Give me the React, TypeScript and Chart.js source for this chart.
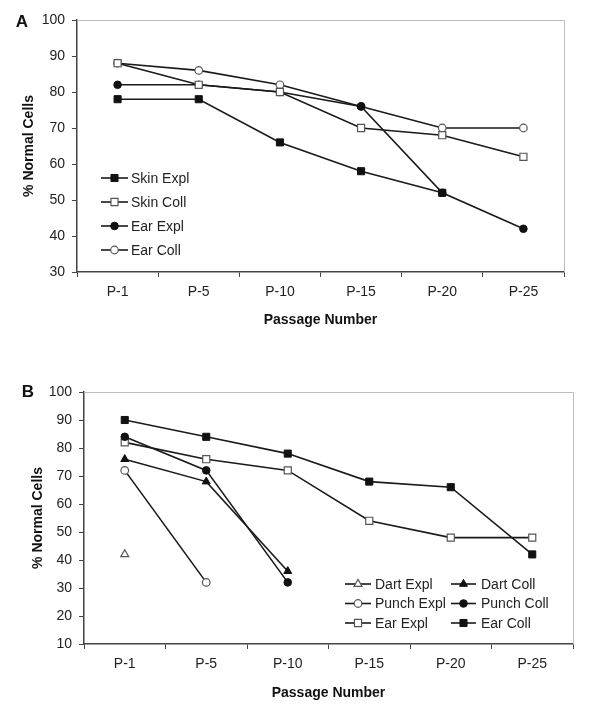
import React, { useEffect, useRef } from 'react';
import { Chart, registerables } from 'chart.js';

Chart.register(...registerables);

// ---------- Data ----------
const passages = ['P-1', 'P-5', 'P-10', 'P-15', 'P-20', 'P-25'];

// Panel A
const skinExplA = [78, 78, 66, 58, 52, null];
const skinCollA = [88, 82, 80, 70, 68, 62];
const earExplA = [82, 82, 80, 76, 52, 42];
const earCollA = [88, 86, 82, 76, 70, 70];

// Panel B
const dartExplB = [42, null, null, null, null, null];
const dartCollB = [76, 68, 36, null, null, null];
const punchExplB = [72, 32, null, null, null, null];
const punchCollB = [84, 72, 32, null, null, null];
const earExplB = [82, 76, 72, 54, 48, 48];
const earCollB = [90, 84, 78, 68, 66, 42];

const yTitle = '% Normal Cells';
const xTitle = 'Passage Number';

// ---------- Styles ----------
const FONT = '"Liberation Sans", Arial, sans-serif';
const TEXT = '#222';
const AXIS = '#444';
const LINE = '#1a1a1a';
const FRAME = '#bdbdbd';

type MarkerStyle = 'rect' | 'circle' | 'triangle';
type Series = { label: string; data: (number | null)[]; style: MarkerStyle; filled: boolean };

const seriesA: Series[] = [
  { label: 'Skin Expl', data: skinExplA, style: 'rect', filled: true },
  { label: 'Skin Coll', data: skinCollA, style: 'rect', filled: false },
  { label: 'Ear Expl', data: earExplA, style: 'circle', filled: true },
  { label: 'Ear Coll', data: earCollA, style: 'circle', filled: false },
];

const seriesB: Series[] = [
  { label: 'Dart Expl', data: dartExplB, style: 'triangle', filled: false },
  { label: 'Dart Coll', data: dartCollB, style: 'triangle', filled: true },
  { label: 'Punch Expl', data: punchExplB, style: 'circle', filled: false },
  { label: 'Punch Coll', data: punchCollB, style: 'circle', filled: true },
  { label: 'Ear Expl', data: earExplB, style: 'rect', filled: false },
  { label: 'Ear Coll', data: earCollB, style: 'rect', filled: true },
];

function markerRadius(s: MarkerStyle) {
  return s === 'rect' ? 5 : s === 'triangle' ? 4.6 : 3.8;
}

function makeDataset(s: Series) {
  const r = markerRadius(s.style);
  return {
    label: s.label,
    data: s.data,
    borderColor: LINE,
    borderWidth: 1.6,
    pointStyle: s.style,
    pointRadius: r,
    pointHoverRadius: r,
    pointBackgroundColor: s.filled ? '#111' : '#fff',
    pointBorderColor: s.filled ? '#111' : '#555',
    pointBorderWidth: s.filled ? 1 : 1.2,
    fill: false,
    tension: 0,
    spanGaps: false,
  };
}

function drawMarker(ctx: CanvasRenderingContext2D, style: MarkerStyle, x: number, y: number, filled: boolean) {
  const r = markerRadius(style);
  ctx.save();
  ctx.fillStyle = filled ? '#111' : '#fff';
  ctx.strokeStyle = filled ? '#111' : '#555';
  ctx.lineWidth = filled ? 1 : 1.2;
  ctx.beginPath();
  if (style === 'circle') {
    ctx.arc(x, y, r, 0, Math.PI * 2);
  } else if (style === 'rect') {
    const h = r * Math.SQRT1_2;
    ctx.rect(x - h, y - h, 2 * h, 2 * h);
  } else {
    ctx.moveTo(x, y - r);
    ctx.lineTo(x + r * Math.sin((2 * Math.PI) / 3), y - r * Math.cos((2 * Math.PI) / 3));
    ctx.lineTo(x + r * Math.sin((4 * Math.PI) / 3), y - r * Math.cos((4 * Math.PI) / 3));
  }
  ctx.closePath();
  ctx.fill();
  ctx.stroke();
  ctx.restore();
}

type LegendPos = { lineX0: number; lineX1: number; textX: number; y: number };

type PanelCfg = {
  letter: string;
  letterX: number;
  letterY: number;
  yMin: number;
  yMax: number;
  yWidth: number;
  xHeight: number;
  padTop: number;
  padRight: number;
  yTitlePad: number;
  xTitlePad: number;
  legend: LegendPos[];
};

function buildChart(canvas: HTMLCanvasElement, series: Series[], cfg: PanelCfg) {
  const overlay = {
    id: 'overlay-' + cfg.letter,
    beforeDatasetsDraw(chart: any) {
      const { ctx, chartArea } = chart;
      ctx.save();
      ctx.strokeStyle = FRAME;
      ctx.lineWidth = 1;
      ctx.beginPath();
      ctx.moveTo(chartArea.left, chartArea.top + 0.5);
      ctx.lineTo(chartArea.right + 0.5, chartArea.top + 0.5);
      ctx.lineTo(chartArea.right + 0.5, chartArea.bottom);
      ctx.stroke();
      ctx.restore();
    },
    afterDraw(chart: any) {
      const { ctx } = chart;
      ctx.save();
      ctx.fillStyle = '#111';
      ctx.font = `bold 17px ${FONT}`;
      ctx.textAlign = 'center';
      ctx.textBaseline = 'middle';
      ctx.fillText(cfg.letter, cfg.letterX, cfg.letterY);
      // legend
      series.forEach((s, i) => {
        const p = cfg.legend[i];
        ctx.strokeStyle = LINE;
        ctx.lineWidth = 1.6;
        ctx.beginPath();
        ctx.moveTo(p.lineX0, p.y);
        ctx.lineTo(p.lineX1, p.y);
        ctx.stroke();
        drawMarker(ctx, s.style, (p.lineX0 + p.lineX1) / 2, p.y, s.filled);
        ctx.fillStyle = TEXT;
        ctx.font = `14px ${FONT}`;
        ctx.textAlign = 'left';
        ctx.textBaseline = 'middle';
        ctx.fillText(s.label, p.textX, p.y + 1);
      });
      ctx.restore();
    },
  };

  return new Chart(canvas, {
    type: 'line',
    data: { labels: passages, datasets: series.map(makeDataset) as any },
    options: {
      responsive: false,
      animation: false,
      devicePixelRatio: 1,
      events: [],
      layout: { padding: { left: 0, right: cfg.padRight, top: cfg.padTop, bottom: 0 } },
      plugins: { legend: { display: false }, tooltip: { enabled: false } },
      scales: {
        x: {
          type: 'category',
          offset: true,
          grid: { display: true, drawOnChartArea: false, drawTicks: true, tickLength: 5, color: AXIS, offset: true },
          border: { display: true, color: AXIS, width: 1.5 },
          ticks: { font: { family: FONT, size: 14 }, color: TEXT, padding: 7, maxRotation: 0, autoSkip: false },
          title: {
            display: true,
            text: xTitle,
            font: { family: FONT, size: 14, weight: 'bold' },
            color: '#111',
            padding: { top: 0, bottom: cfg.xTitlePad },
          },
          afterFit: (s: any) => {
            s.height = cfg.xHeight;
          },
        },
        y: {
          type: 'linear',
          min: cfg.yMin,
          max: cfg.yMax,
          grid: { display: true, drawOnChartArea: false, drawTicks: true, tickLength: 5, color: AXIS },
          border: { display: true, color: AXIS, width: 1.5 },
          ticks: { stepSize: 10, font: { family: FONT, size: 14 }, color: TEXT, padding: 7 },
          title: {
            display: true,
            text: yTitle,
            font: { family: FONT, size: 14, weight: 'bold' },
            color: '#111',
            padding: { top: cfg.yTitlePad, bottom: 0 },
          },
          afterFit: (s: any) => {
            s.width = cfg.yWidth;
          },
        },
      },
    } as any,
    plugins: [overlay],
  });
}

const cfgA: PanelCfg = {
  letter: 'A',
  letterX: 22,
  letterY: 22,
  yMin: 30,
  yMax: 100,
  yWidth: 77,
  xHeight: 88,
  padTop: 20,
  padRight: 36,
  yTitlePad: 20.6,
  xTitlePad: 31.6,
  legend: [
    { lineX0: 101, lineX1: 128, textX: 131, y: 178 },
    { lineX0: 101, lineX1: 128, textX: 131, y: 202 },
    { lineX0: 101, lineX1: 128, textX: 131, y: 226 },
    { lineX0: 101, lineX1: 128, textX: 131, y: 250 },
  ],
};

const cfgB: PanelCfg = {
  letter: 'B',
  letterX: 28,
  letterY: 32,
  yMin: 10,
  yMax: 100,
  yWidth: 84,
  xHeight: 76,
  padTop: 32,
  padRight: 27,
  yTitlePad: 29.6,
  xTitlePad: 18.6,
  legend: [
    { lineX0: 345, lineX1: 371, textX: 375, y: 224 },
    { lineX0: 451, lineX1: 476, textX: 481, y: 224 },
    { lineX0: 345, lineX1: 371, textX: 375, y: 243.5 },
    { lineX0: 451, lineX1: 476, textX: 481, y: 243.5 },
    { lineX0: 345, lineX1: 371, textX: 375, y: 263 },
    { lineX0: 451, lineX1: 476, textX: 481, y: 263 },
  ],
};

export default function App() {
  const refA = useRef<HTMLCanvasElement | null>(null);
  const refB = useRef<HTMLCanvasElement | null>(null);

  useEffect(() => {
    const a = refA.current ? buildChart(refA.current, seriesA, cfgA) : null;
    const b = refB.current ? buildChart(refB.current, seriesB, cfgB) : null;
    return () => {
      a?.destroy();
      b?.destroy();
    };
  }, []);

  return (
    <div style={{ position: 'fixed', left: 0, top: 0, width: 600, height: 720, background: '#fff' }}>
      <canvas ref={refA} width={600} height={360} style={{ position: 'absolute', left: 0, top: 0, width: 600, height: 360 }} />
      <canvas ref={refB} width={600} height={360} style={{ position: 'absolute', left: 0, top: 360, width: 600, height: 360 }} />
    </div>
  );
}
